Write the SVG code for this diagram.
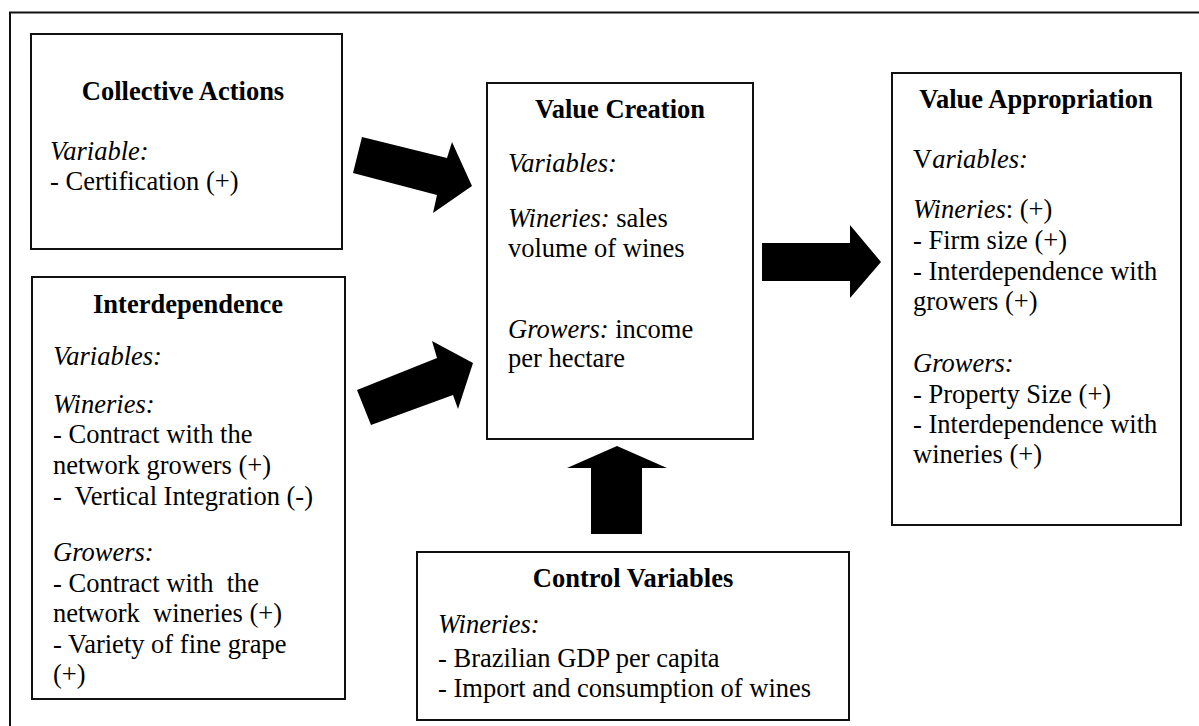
<svg xmlns="http://www.w3.org/2000/svg" width="1199" height="726" viewBox="0 0 1199 726">
<style>
.frame{fill:none;stroke:#111;stroke-width:2}
.box{fill:#fff;stroke:#111;stroke-width:2}
.t{font-family:"Liberation Serif","Times New Roman",serif;font-size:26.5px;fill:#000}
.h{font-weight:bold;text-anchor:middle}
.i{font-style:italic}
.arrow{fill:#000;stroke:none}
</style>
<rect x="0" y="0" width="1199" height="726" fill="#fff"/>
<rect class="frame" x="10" y="12.5" width="1210" height="730"/>

<g id="collective-actions">
<rect class="box" x="31" y="34" width="311" height="215"/>
<text class="t h" x="183" y="100">Collective Actions</text>
<text class="t i" x="50" y="160">Variable:</text>
<text class="t" x="50" y="190">- Certification (+)</text>
</g>

<g id="interdependence">
<rect class="box" x="32" y="277" width="313" height="422"/>
<text class="t h" x="188" y="313">Interdependence</text>
<text class="t i" x="53" y="365">Variables:</text>
<text class="t i" x="53" y="413">Wineries:</text>
<text class="t" x="53" y="443" xml:space="preserve">- Contract with the</text>
<text class="t" x="53" y="474" xml:space="preserve">network growers (+)</text>
<text class="t" x="53" y="505" xml:space="preserve">-  Vertical Integration (-)</text>
<text class="t i" x="53" y="561">Growers:</text>
<text class="t" x="53" y="592" xml:space="preserve">- Contract with  the</text>
<text class="t" x="53" y="622" xml:space="preserve">network  wineries (+)</text>
<text class="t" x="53" y="653" xml:space="preserve">- Variety of fine grape</text>
<text class="t" x="53" y="683">(+)</text>
</g>

<g id="value-creation">
<rect class="box" x="487" y="83" width="266" height="356"/>
<text class="t h" x="620" y="118">Value Creation</text>
<text class="t i" x="508" y="172">Variables:</text>
<text class="t" x="508" y="227" xml:space="preserve"><tspan class="i">Wineries:</tspan> sales</text>
<text class="t" x="508" y="257">volume of wines</text>
<text class="t" x="508" y="338" xml:space="preserve"><tspan class="i">Growers:</tspan> income</text>
<text class="t" x="508" y="367">per hectare</text>
</g>

<g id="value-appropriation">
<rect class="box" x="892" y="73" width="289" height="452"/>
<text class="t h" x="1036" y="108">Value Appropriation</text>
<text class="t" x="913" y="168">V<tspan class="i">ariables:</tspan></text>
<text class="t" x="913" y="218"><tspan class="i">Wineries</tspan>: (+)</text>
<text class="t" x="913" y="249">- Firm size (+)</text>
<text class="t" x="913" y="280">- Interdependence with</text>
<text class="t" x="913" y="310">growers (+)</text>
<text class="t i" x="913" y="372">Growers:</text>
<text class="t" x="913" y="403">- Property Size (+)</text>
<text class="t" x="913" y="433">- Interdependence with</text>
<text class="t" x="913" y="463">wineries (+)</text>
</g>

<g id="control-variables">
<rect class="box" x="417" y="552" width="432" height="168"/>
<text class="t h" x="633" y="587">Control Variables</text>
<text class="t i" x="438" y="633">Wineries:</text>
<text class="t" x="438" y="667">- Brazilian GDP per capita</text>
<text class="t" x="438" y="697">- Import and consumption of wines</text>
</g>

<g id="connectors">
<polygon class="arrow" points="362,137 447,158 452,142 472,186 433,213 437,195 353,173"/>
<polygon class="arrow" points="357,390 437,358 432,341 473,363 458,409 453,395 371,425"/>
<polygon class="arrow" points="762,243 850,243 850,225 881,262 850,298 850,281 762,281"/>
<polygon class="arrow" points="591,534 591,468 567,468 617,446 667,468 642,468 642,534"/>
</g>
</svg>
